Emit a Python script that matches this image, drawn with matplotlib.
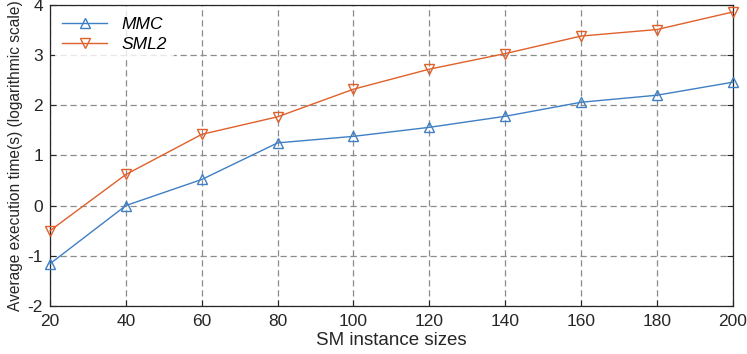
import matplotlib
matplotlib.use("Agg")
import matplotlib.pyplot as plt

sizes = [20, 40, 60, 80, 100, 120, 140, 160, 180, 200]
mmc = [-1.16, 0.0, 0.52, 1.25, 1.38, 1.56, 1.78, 2.06, 2.20, 2.46]
sml2 = [-0.50, 0.62, 1.42, 1.77, 2.32, 2.72, 3.03, 3.38, 3.51, 3.86]
xticks = [20, 40, 60, 80, 100, 120, 140, 160, 180, 200]
yticks = [-2, -1, 0, 1, 2, 3, 4]

plt.rcParams['font.family'] = ['Liberation Sans', 'DejaVu Sans']
plt.rcParams['axes.unicode_minus'] = False

fig = plt.figure(figsize=(7.47, 3.54), dpi=100)
ax = fig.add_axes([0.067, 0.136, 0.914, 0.850])

ax.plot(sizes, mmc, color='#3F7FC4', marker='^', markersize=7, markerfacecolor='none',
        markeredgewidth=1.0, linewidth=1.0, label='MMC', clip_on=False, zorder=3)
ax.plot(sizes, sml2, color='#E0602A', marker='v', markersize=7, markerfacecolor='none',
        markeredgewidth=1.0, linewidth=1.0, label='SML2', clip_on=False, zorder=3)

ax.set_xlim(20, 200)
ax.set_ylim(-2, 4)
ax.set_xticks(xticks)
ax.set_yticks(yticks)
ax.tick_params(direction='in', labelsize=12.5, colors='#262626', length=4, width=0.8,
               top=False, right=True)
ax.tick_params(axis='x', pad=6)
ax.tick_params(axis='y', pad=5)
ax.grid(True, linestyle=(0, (5, 3)), color='#8c8c8c', linewidth=0.9)
for s in ax.spines.values():
    s.set_color('#262626')
    s.set_linewidth(0.9)

ax.set_xlabel('SM instance sizes', fontsize=13.5, color='#262626', labelpad=2)
ax.set_ylabel('Average execution time(s) (logarithmic scale)', fontsize=11.2,
              color='#262626', labelpad=3)

leg = ax.legend(loc='upper left', frameon=True, fancybox=False, edgecolor='white',
                prop={'style': 'italic', 'size': 12.5}, handlelength=2.6,
                borderaxespad=0.3, labelspacing=0.25)
leg.get_frame().set_linewidth(0)

fig.savefig('out.png', dpi=100)
